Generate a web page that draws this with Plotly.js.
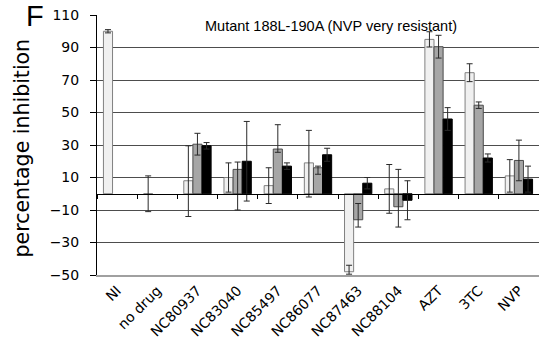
<!DOCTYPE html>
<html>
<head>
<meta charset="utf-8">
<script src="https://cdn.plot.ly/plotly-3.0.1.min.js"></script>
<style>
  html, body { margin: 0; padding: 0; background: #fff; }
  #chart { width: 539px; height: 356px; }
</style>
</head>
<body>
<div id="chart"></div>
<script>
// ---- data ----
const categories = ["NI", "no drug", "NC80937", "NC83040", "NC85497", "NC86077", "NC87463", "NC88104", "AZT", "3TC", "NVP"];

const seriesLight      = [100, 0, 8, 10, 5, 19, -48, 3, 95, 74.5, 11];
const seriesLightPlus  = [1, 11, 21.5, 9, 11, 20, 4, 15, 4.7, 5.5, 10];
const seriesLightMinus = [1, 11, 22, 9, 11, 21, 1.5, 15, 4.7, 5.5, 10];

const seriesGrey       = [null, null, 30.5, 15, 27.5, 16, -16, -8, 90.5, 54.5, 20.5];
const seriesGreyPlus   = [0, 0, 6.7, 4.5, 15, 1, 10, 23, 7, 2, 12.5];
const seriesGreyMinus  = [0, 0, 6.7, 25, 2, 4, 4.5, 12.5, 7, 2, 12.5];

const seriesBlack      = [null, null, 29.5, 20, 17, 24, 6.5, -4, 46, 22, 9];
const seriesBlackPlus  = [0, 0, 2, 24.5, 2, 4, 3.5, 12, 7, 2.5, 8];
const seriesBlackMinus = [0, 0, 2, 24.5, 2, 4, 3.5, 12, 7, 2.5, 8];

const yTickVals = [-50, -30, -10, 10, 30, 50, 70, 90, 110];
const yMin = -50, yMax = 110;

const chartTitle = "Mutant 188L-190A (NVP very resistant)";
const yTitle = "percentage inhibition";
const panelLetter = "F";

// ---- traces ----
function errBar(plus, minus) {
  return { type: 'data', symmetric: false, array: plus, arrayminus: minus,
           color: '#2a2a2a', thickness: 1, width: 3, visible: true };
}

const traces = [
  { type: 'bar', x: categories, y: seriesLight, name: 'A',
    marker: { color: '#f0f0f0', line: { color: '#808080', width: 1 } },
    error_y: errBar(seriesLightPlus, seriesLightMinus), hoverinfo: 'skip' },
  { type: 'bar', x: categories, y: seriesGrey, name: 'B',
    marker: { color: '#a6a6a6', line: { color: '#4a4a4a', width: 1 } },
    error_y: errBar(seriesGreyPlus, seriesGreyMinus), hoverinfo: 'skip' },
  { type: 'bar', x: categories, y: seriesBlack, name: 'C',
    marker: { color: '#000000', line: { color: '#000000', width: 1 } },
    error_y: errBar(seriesBlackPlus, seriesBlackMinus), hoverinfo: 'skip' },
  // carrier for the zero-line category axis (ticks between categories)
  { type: 'scatter', x: categories, y: categories.map(() => null), xaxis: 'x2', yaxis: 'y',
    mode: 'markers', showlegend: false, hoverinfo: 'skip' }
];

const zeroPos = (0 - yMin) / (yMax - yMin);

const layout = {
  width: 539, height: 356,
  margin: { l: 97, r: 0, t: 15, b: 81, pad: 0 },
  paper_bgcolor: '#ffffff', plot_bgcolor: '#ffffff',
  showlegend: false,
  barmode: 'group', bargap: 0.32, bargroupgap: 0,
  font: { family: 'DejaVu Sans, Verdana, sans-serif', size: 14, color: '#000' },
  xaxis: {
    type: 'category', categoryorder: 'array', categoryarray: categories,
    range: [-0.5, categories.length - 0.5],
    tickangle: -45, ticks: '', showgrid: false,
    showline: true, linecolor: '#a0a0a0', linewidth: 2,
    tickfont: { family: 'DejaVu Sans, Verdana, sans-serif', size: 14, color: '#000' },
    zeroline: false, fixedrange: true
  },
  xaxis2: {
    type: 'category', categoryorder: 'array', categoryarray: categories,
    range: [-0.5, categories.length - 0.5],
    overlaying: 'x', anchor: 'free', position: zeroPos,
    showline: true, linecolor: '#000', linewidth: 1.5,
    ticks: 'outside', tickson: 'boundaries', ticklen: 4, tickcolor: '#000', tickwidth: 1,
    showticklabels: false, showgrid: false, zeroline: false, fixedrange: true
  },
  yaxis: {
    range: [yMin, yMax], tickmode: 'array', tickvals: yTickVals,
    showgrid: true, gridcolor: '#4d4d4d', gridwidth: 1,
    showline: true, linecolor: '#000', linewidth: 1,
    ticks: 'outside', ticklen: 6, tickcolor: '#000',
    ticklabelstandoff: 8,
    zeroline: false, fixedrange: true,
    tickfont: { family: 'DejaVu Sans, Verdana, sans-serif', size: 14, color: '#000' }
  },
  annotations: [
    { text: chartTitle, xref: 'paper', yref: 'paper', x: 0.53, y: 0.958,
      xanchor: 'center', yanchor: 'middle', showarrow: false,
      font: { family: 'Liberation Sans, Arial, sans-serif', size: 14.5, color: '#000' } },
    { text: panelLetter, xref: 'paper', yref: 'paper', x: -0.165, y: 1.065,
      xanchor: 'left', yanchor: 'top', showarrow: false,
      font: { family: 'Liberation Sans, Arial, sans-serif', size: 29, color: '#000' } },
    { text: yTitle, xref: 'paper', yref: 'paper', x: -0.17, y: 0.49,
      xanchor: 'center', yanchor: 'middle', textangle: -90, showarrow: false,
      font: { family: 'DejaVu Sans, Verdana, sans-serif', size: 20.5, color: '#000' } }
  ]
};

Plotly.newPlot('chart', traces, layout, { displayModeBar: false, staticPlot: true });
</script>
</body>
</html>
